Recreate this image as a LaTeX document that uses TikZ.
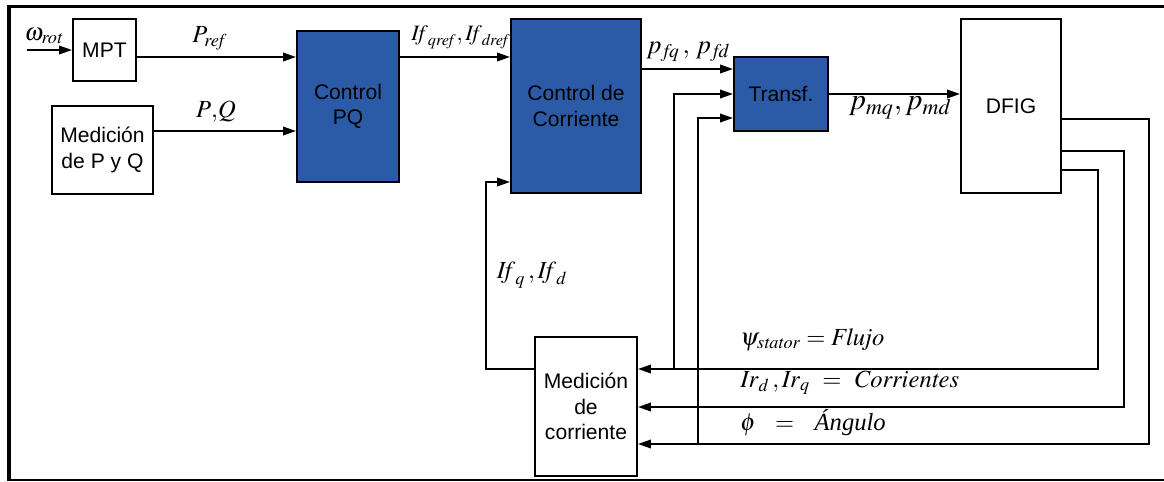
\documentclass[tikz,border=0pt]{standalone}
\usepackage{mathptmx}
\usepackage[no-math]{fontspec}
\setmainfont{Liberation Sans}
\newfontfamily\tnr{Liberation Serif}
\usetikzlibrary{arrows.meta}
\definecolor{ctrlblue}{RGB}{43,91,166}

\begin{document}
\begin{tikzpicture}[x=0.02cm,y=-0.02cm,
    blk/.style={draw,line width=1.1pt,inner sep=0pt,align=center,
      font=\fontsize{12}{14.5}\selectfont},
    ctrl/.style={blk,fill=ctrlblue},
    sig/.style={line width=1.1pt,-{Triangle[length=2.6mm,width=1.7mm]}},
    lbl/.style={inner sep=0pt,font=\fontsize{14}{16}\selectfont}]
  \useasboundingbox (0,0) rectangle (1164,481);
  \draw[line width=1.7pt] (7,6.5) -- (1164,6.5);
  \draw[line width=2.3pt] (9,5) -- (9,481);
  \draw[line width=0.6pt] (9,480) -- (1164,480);

  % blocks
  \node[blk,minimum width=1.26cm,minimum height=1.24cm] (mpt) at (104.5,50) {MPT};
  \node[blk,minimum width=2.02cm,minimum height=1.76cm] (medpq) at (102.5,150) {Medición\\de P y Q};
  \node[ctrl,minimum width=2.04cm,minimum height=3.02cm] (ctrlpq) at (348,106.5) {Control\\PQ};
  \node[ctrl,minimum width=2.6cm,minimum height=3.48cm] (ctrlcorr) at (576,106) {Control de\\Corriente};
  \node[ctrl,minimum width=1.88cm,minimum height=1.48cm] (transf) at (781,94) {Transf.};
  \node[blk,minimum width=2.0cm,minimum height=3.48cm] (dfig) at (1011,106) {DFIG};
  \node[blk,minimum width=2.04cm,minimum height=2.78cm] (medcorr) at (586,406.5) {Medición\\de\\corriente};

  \coordinate (win) at (27,50);
  \coordinate (tapflux) at (674,369);
  \coordinate (tapang) at (698,444);

  % signals
  \draw[sig] (win) -- (mpt.west);
  \draw[sig] (mpt.east |- 0,57) -- (ctrlpq.west |- 0,57);
  \draw[sig] (medpq.east |- 0,131) -- (ctrlpq.west |- 0,131);
  \draw[sig] (ctrlpq.east |- 0,57) -- (ctrlcorr.west |- 0,57);
  \draw[sig] (ctrlcorr.east |- 0,69) -- (transf.west |- 0,69);
  \draw[sig] (transf.east) -- (dfig.west |- transf.east);
  \draw[sig] (medcorr.west |- 0,369) -- (486,369) -- (486,182) -- (ctrlcorr.west |- 0,182);
  \draw[sig] (dfig.east |- 0,119) -| (1149,444) -- (medcorr.east |- 0,444);
  \draw[sig] (dfig.east |- 0,151) -| (1124,407) -- (medcorr.east |- 0,407);
  \draw[sig] (dfig.east |- 0,170) -| (1098,369) -- (medcorr.east |- 0,369);
  \draw[sig] (tapflux) -- (tapflux |- 0,94) -- (transf.west |- 0,94);
  \draw[sig] (tapang) -- (tapang |- 0,118) -- (transf.west |- 0,118);

  % labels
  \node[lbl] (wrot) at (44,36) {$\omega_{\mathit{rot}}$};
  \node[lbl] (pref) at (210,38) {$P_{\mathit{ref}}$};
  \node[lbl] (pq) at (216,112) {$P{,}Q$};
  \node[lbl,font=\fontsize{12.5}{14}\selectfont] (ifref) at (461,37) {$\mathit{If}_{\mathit{qref}},\mathit{If}_{\mathit{dref}}$};
  \node[lbl,font=\fontsize{15}{17}\selectfont] (pf) at (688,52) {$p_{\,\mathit{fq}}\,,\,p_{\,\mathit{fd}}$};
  \node[lbl,font=\fontsize{17}{19}\selectfont] (pm) at (900,108) {$p_{\mathit{mq}},p_{\mathit{md}}$};
  \node[lbl] (iff) at (532,275) {$\mathit{If}_q\,,\mathit{If}_d$};
  \node[lbl,anchor=base west] (flux) at (740,345) {$\psi_{\mathit{stator}} = \mathit{Flujo}$};
  \node[lbl,anchor=base west] (curr) at (740,387) {$\mathit{Ir}_d\,,\mathit{Ir}_q\ =\ \mathit{Corrientes}$};
  \node[lbl,anchor=base west] (ang) at (740,430) {$\phi\ \ =\ \ $\ {\tnr\itshape Ángulo}};
\end{tikzpicture}
\end{document}
